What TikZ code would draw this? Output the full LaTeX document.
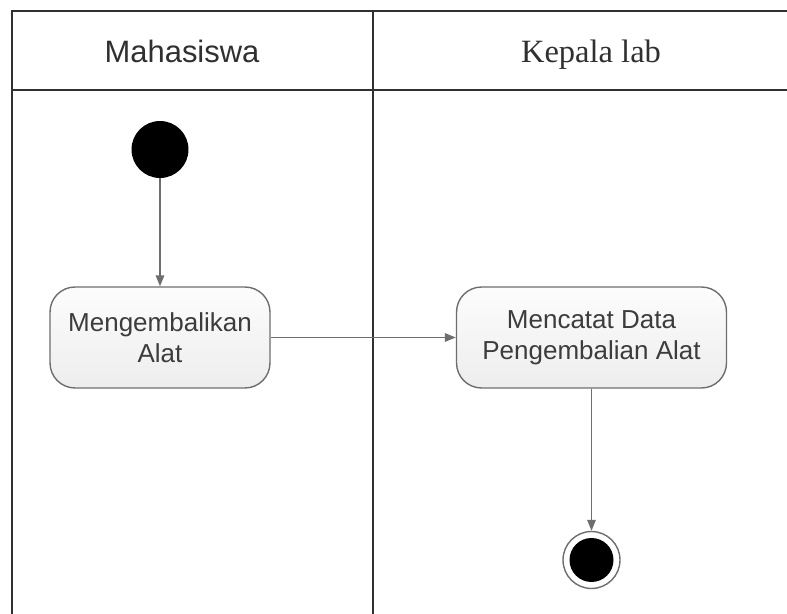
\documentclass[tikz,border=0pt]{standalone}
\usepackage{fontspec}
\setmainfont{Liberation Sans}
\newfontfamily\headserif{Liberation Serif}
\usetikzlibrary{positioning,arrows.meta}

\definecolor{framegray}{HTML}{303030}
\definecolor{linegray}{HTML}{6E6E6E}
\definecolor{textgray}{HTML}{3C3C3C}

\tikzset{
  lane/.style={draw=framegray, line width=1.1pt},
  action/.style={draw=linegray, line width=0.8pt, rounded corners=0.5cm,
    top color=gray!2, bottom color=gray!14, align=center, inner sep=0pt,
    minimum height=2.02cm, text=textgray,
    font=\fontsize{14.8}{17.8}\selectfont},
  flow/.style={draw=linegray, line width=0.8pt,
    -{Triangle[length=0.22cm,width=0.17cm]}}
}

\begin{document}
\begin{tikzpicture}[x=0.02cm,y=-0.02cm]
    		\useasboundingbox (0,0) rectangle (787,614);
    		\fill[white] (0,0) rectangle (787,614);

    		% Draw the swimlanes
    		\draw[lane] (12,614) -- (12,11) -- (787,11);
    		\draw[lane] (12,90) -- (787,90); % header
    		\draw[lane] (373,11) -- (373,614);

    		\node[anchor=base, text=framegray, font=\fontsize{17.6}{20}\selectfont] (lanemhs) at (182,63) {Mahasiswa};
    		\node[anchor=base, text=framegray, font=\headserif\fontsize{18.5}{20}\selectfont] (lanekalab) at (591,63) {Kepala lab};

    		% Initial node
    		\node[circle, fill=black, minimum size=1.14cm, inner sep=0pt] (start) at (160,149.5) {};

    		% Activities
    		\node[action, minimum width=4.4cm] (kembali) at (160,337.5) {Mengembalikan\\Alat};
    		\node[action, minimum width=5.4cm] (catat) at (591.5,337.5) {Mencatat Data\\Pengembalian Alat};

    		% Final node
    		\node[circle, draw=linegray, line width=0.8pt, fill=white, minimum size=1.14cm, inner sep=0pt] (finish) at (591.5,560) {};
    		\node[circle, fill=black, minimum size=0.88cm, inner sep=0pt] (finishdot) at (finish) {};

    		% Flows
    		\draw[flow] (start) -- (kembali);
    		\draw[flow] (kembali) -- (catat);
    		\draw[flow] (catat) -- (finish);
\end{tikzpicture}
\end{document}
